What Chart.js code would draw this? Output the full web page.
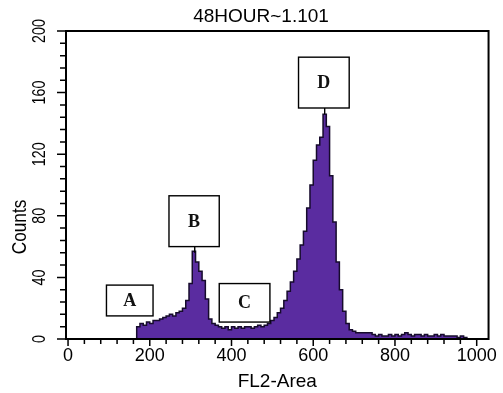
<!DOCTYPE html>
<html>
<head>
<meta charset="utf-8">
<script src="https://cdn.jsdelivr.net/npm/chart.js@4.4.0/dist/chart.umd.min.js"></script>
<style>
  html, body { margin: 0; padding: 0; background: #fff; }
  canvas { display: block; }
</style>
</head>
<body>
<canvas id="chart" width="503" height="393"></canvas>
<script>
// FL2-Area channel (bin start) and counts per bin
const channels = [160, 168, 176, 184, 192, 200, 208, 216, 224, 232,
  240, 248, 256, 264, 272, 280, 288, 296, 304, 312,
  320, 328, 336, 344, 352, 360, 368, 376, 384, 392,
  400, 408, 416, 424, 432, 440, 448, 456, 464, 472,
  480, 488, 496, 504, 512, 520, 528, 536, 544, 552,
  560, 568, 576, 584, 592, 600, 608, 616, 624, 632,
  640, 648, 656, 664, 672, 680, 688, 696, 704, 712,
  720, 728, 736, 744, 752, 760, 768, 776, 784, 792,
  800, 808, 816, 824, 832, 840, 848, 856, 864, 872,
  880, 888, 896, 904, 912, 920, 928, 936, 944, 952,
  960, 968, 976];
const counts = [0, 8, 10, 9, 11, 10, 12, 12, 13, 14,
  15, 16, 15, 17, 18, 20, 25, 36, 57, 50,
  44, 38, 26, 13, 10, 9, 8, 7, 8, 6,
  8, 7, 8, 7, 8, 8, 7, 8, 9, 8,
  9, 10, 12, 14, 17, 20, 25, 31, 37, 44,
  52, 61, 70, 85, 100, 116, 126, 131, 146, 138,
  106, 76, 50, 32, 18, 10, 6, 5, 4, 4,
  4, 4, 4, 3, 2, 3, 2, 2, 3, 2,
  3, 2, 3, 4, 3, 2, 3, 3, 2, 3,
  2, 2, 3, 2, 3, 2, 2, 2, 2, 1,
  2, 1, 0];

const xTickLabels = [0, 200, 400, 600, 800, 1000];
const yTickLabels = [0, 40, 80, 120, 160, 200];
const chartTitle = '48HOUR~1.101';
const xTitle = 'FL2-Area';
const yTitle = 'Counts';

// region markers, in data units: label, x from/to, count top/bottom, peak it points at
const gates = [
  { label: 'A', x0: 94, x1: 208, top: 35, bottom: 15 },
  { label: 'B', x0: 247, x1: 370, top: 93, bottom: 60, peakX: 310, peakY: 56 },
  { label: 'C', x0: 370, x1: 494, top: 36, bottom: 11 },
  { label: 'D', x0: 564, x1: 688, top: 183, bottom: 150, peakX: 628, peakY: 146 }
];

const SANS = '"Liberation Sans", Arial, Helvetica, sans-serif';

const gatesPlugin = {
  id: 'gates',
  afterDatasetsDraw(chart) {
    const { ctx, scales: { x, y } } = chart;
    ctx.save();
    ctx.strokeStyle = '#000';
    ctx.lineWidth = 1.4;
    ctx.font = 'bold 18px "Liberation Serif", "Times New Roman", serif';
    ctx.textAlign = 'center';
    ctx.textBaseline = 'middle';
    gates.forEach(g => {
      const l = x.getPixelForValue(g.x0), r = x.getPixelForValue(g.x1);
      const t = y.getPixelForValue(g.top), b = y.getPixelForValue(g.bottom);
      ctx.fillStyle = '#fff';
      ctx.fillRect(l, t, r - l, b - t);
      ctx.strokeRect(l, t, r - l, b - t);
      ctx.fillStyle = '#111';
      ctx.fillText(g.label, (l + r) / 2, (t + b) / 2 + 1);
      if (g.peakX !== undefined) {
        const px = x.getPixelForValue(g.peakX);
        ctx.beginPath();
        ctx.moveTo(px, b);
        ctx.lineTo(px, y.getPixelForValue(g.peakY));
        ctx.stroke();
      }
    });
    ctx.restore();
  }
};

const framePlugin = {
  id: 'frame',
  afterDraw(chart) {
    const { ctx, chartArea: a, scales: { x, y } } = chart;
    ctx.save();
    ctx.strokeStyle = '#000';
    ctx.lineWidth = 2;
    ctx.strokeRect(a.left, a.top, a.right - a.left, a.bottom - a.top);

    // tick marks, minor every 40 channels / 8 counts
    ctx.lineWidth = 1.5;
    ctx.beginPath();
    for (let v = 0; v <= 1000; v += 40) {
      const px = x.getPixelForValue(v);
      ctx.moveTo(px, a.bottom);
      ctx.lineTo(px, a.bottom + (v % 200 === 0 ? 7 : 5));
    }
    for (let v = 0; v <= 200; v += 8) {
      const py = y.getPixelForValue(v);
      ctx.moveTo(a.left, py);
      ctx.lineTo(a.left - (v % 40 === 0 ? 9 : 6), py);
    }
    ctx.stroke();

    ctx.fillStyle = '#000';
    ctx.textAlign = 'center';
    ctx.textBaseline = 'middle';

    // rotated y labels, a bit narrow like the original
    ctx.font = '17.5px ' + SANS;
    yTickLabels.forEach(v => {
      ctx.save();
      ctx.translate(a.left - 26, y.getPixelForValue(v));
      ctx.rotate(-Math.PI / 2);
      ctx.scale(0.82, 1);
      ctx.fillText(String(v), 0, 0);
      ctx.restore();
    });

    ctx.save();
    ctx.font = '21px ' + SANS;
    ctx.translate(20.5, 227);
    ctx.rotate(-Math.PI / 2);
    ctx.scale(0.82, 1);
    ctx.fillText(yTitle, 0, 0);
    ctx.restore();

    ctx.font = '19px ' + SANS;
    ctx.fillText(chartTitle, 261, 17);
    ctx.restore();
  }
};

new Chart(document.getElementById('chart'), {
  type: 'line',
  data: {
    datasets: [{
      data: channels.map((c, i) => ({ x: c, y: counts[i] })),
      stepped: true,
      fill: 'origin',
      backgroundColor: '#5a2ca0',
      borderColor: '#160b2c',
      borderWidth: 1.5,
      pointRadius: 0
    }]
  },
  options: {
    responsive: false,
    animation: false,
    devicePixelRatio: 1,
    layout: { padding: { left: 0, right: 10, top: 31, bottom: 0 } },
    plugins: {
      legend: { display: false },
      tooltip: { enabled: false }
    },
    scales: {
      x: {
        type: 'linear',
        min: -5,
        max: 1029,
        afterBuildTicks: s => { s.ticks = xTickLabels.map(v => ({ value: v })); },
        afterFit: s => { s.height = 54; },
        grid: { display: false, drawTicks: false },
        border: { display: false },
        ticks: {
          color: '#000',
          font: { family: SANS, size: 18 },
          padding: 6,
          maxRotation: 0,
          autoSkip: false,
          callback: v => String(v)
        },
        title: {
          display: true,
          text: xTitle,
          color: '#000',
          font: { family: SANS, size: 19 },
          padding: 0
        }
      },
      y: {
        min: 0,
        max: 200,
        afterFit: s => { s.width = 66; },
        grid: { display: false, drawTicks: false },
        border: { display: false },
        ticks: { display: false }
      }
    }
  },
  plugins: [gatesPlugin, framePlugin]
});
</script>
</body>
</html>
